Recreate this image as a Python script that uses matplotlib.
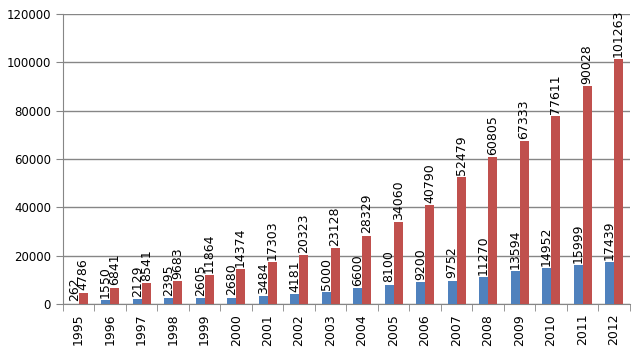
import matplotlib
matplotlib.use("Agg")
import matplotlib.pyplot as plt
import numpy as np

years = [str(y) for y in range(1995, 2013)]
blue = [262, 1550, 2129, 2395, 2605, 2680, 3484, 4181, 5000, 6600, 8100, 9200,
        9752, 11270, 13594, 14952, 15999, 17439]
red = [4786, 6841, 8541, 9683, 11864, 14374, 17303, 20323, 23128, 28329, 34060,
       40790, 52479, 60805, 67333, 77611, 90028, 101263]

fig = plt.figure(figsize=(6.42, 3.48), dpi=100)
ax = fig.add_axes([0.098, 0.126, 0.883, 0.834])

x = np.arange(len(years))
w = 0.286
b1 = ax.bar(x - w / 2, blue, w, color="#4F81BD", zorder=3)
b2 = ax.bar(x + w / 2, red, w, color="#C0504D", zorder=3)

for bars, vals in ((b1, blue), (b2, red)):
    for r, v in zip(bars, vals):
        ax.text(r.get_x() + r.get_width() / 2, v + 900, str(v), rotation=90,
                ha="center", va="bottom", fontsize=9, color="black", zorder=4)

ax.set_xlim(-0.5, len(years) - 0.5)
ax.set_ylim(0, 120000)
ax.set_yticks(range(0, 120001, 20000))
ax.yaxis.grid(True, color="#868686", linewidth=1, zorder=0)
ax.set_xticks(x)
ax.set_xticklabels(years, rotation=90, fontsize=9)
ax.tick_params(axis="x", length=0, pad=7)
ax.set_xticks(np.arange(-0.5, len(years)), minor=True)
ax.tick_params(axis="x", which="minor", length=5, color="#868686")
ax.tick_params(axis="y", length=5, color="#868686", labelsize=8.5)
for s in ("top", "right"):
    ax.spines[s].set_visible(False)
for s in ("left", "bottom"):
    ax.spines[s].set_color("#868686")

fig.savefig("out.png", dpi=100)
